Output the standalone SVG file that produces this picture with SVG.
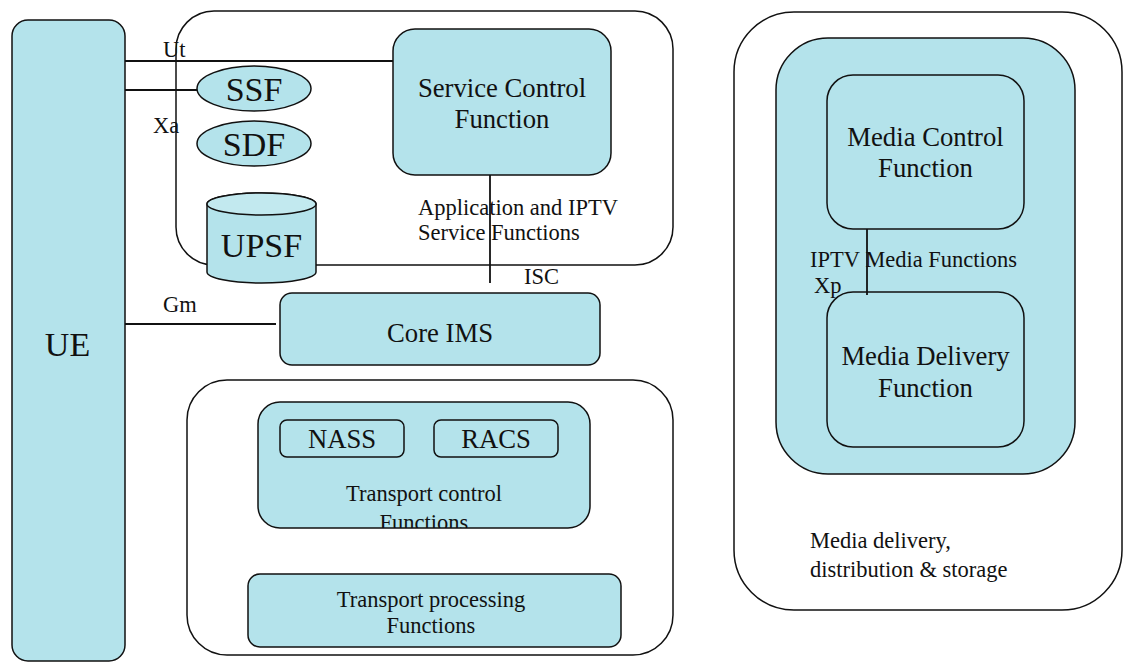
<svg xmlns="http://www.w3.org/2000/svg" width="1124" height="662" viewBox="0 0 1124 662">
<style>
.box{fill:#b4e3eb;stroke:#111;stroke-width:1.5}
.grp{fill:none;stroke:#111;stroke-width:1.5}
.ln{stroke:#111;stroke-width:1.8;fill:none}
text{fill:#111;font-family:'Liberation Serif','DejaVu Serif',serif}
.big{font-size:34px;text-anchor:middle}
.mid{font-size:26.7px;text-anchor:middle}
.sm{font-size:22.5px}
.smc{font-size:22.5px;text-anchor:middle}
</style>
<defs>
<clipPath id="tcclip"><rect x="258" y="402" width="332" height="126" rx="22"/></clipPath>
</defs>
<rect width="1124" height="662" fill="#fff"/>
<g id="app-group">
<rect class="grp" x="176" y="11" width="497" height="254" rx="38"/>
<text class="sm" x="418" y="215">Application and IPTV</text>
<text class="sm" x="418" y="240">Service Functions</text>
</g>
<g id="media-group">
<rect class="grp" x="734" y="12" width="388" height="598" rx="60"/>
<rect class="box" x="776" y="38" width="299" height="436" rx="52"/>
<text class="sm" x="810" y="267">IPTV Media Functions</text>
<text class="sm" x="810" y="548">Media delivery,</text>
<text class="sm" x="810" y="577">distribution &amp; storage</text>
</g>
<g id="transport-group">
<rect class="grp" x="187" y="380" width="486" height="275" rx="40"/>
</g>
<g id="ue">
<rect class="box" x="12" y="20" width="113" height="641" rx="16"/>
<text class="big" x="67.5" y="356">UE</text>
</g>
<g id="scf">
<rect class="box" x="393" y="29" width="218" height="146" rx="22"/>
<text class="mid" x="502" y="97">Service Control</text>
<text class="mid" x="502" y="128">Function</text>
</g>
<g id="ssf">
<ellipse class="box" cx="254" cy="88.5" rx="57" ry="22.5"/>
<text class="big" x="254" y="101">SSF</text>
</g>
<g id="sdf">
<ellipse class="box" cx="254" cy="143.5" rx="57" ry="22.5"/>
<text class="big" x="254" y="156">SDF</text>
</g>
<g id="upsf">
<path class="box" d="M207 204 L207 272 A54.5 11 0 0 0 316 272 L316 204 A54.5 11 0 0 0 207 204 Z"/>
<ellipse cx="261.5" cy="204" rx="54.5" ry="11" fill="#c2e9ef" stroke="#111" stroke-width="1.5"/>
<text class="big" x="261.5" y="257">UPSF</text>
</g>
<g id="core-ims">
<rect class="box" x="280" y="293" width="320" height="72" rx="12"/>
<text class="mid" x="440" y="342">Core IMS</text>
</g>
<g id="transport-control">
<rect x="258" y="402" width="332" height="126" rx="22" fill="#b4e3eb"/>
<text class="smc" x="424" y="501">Transport control</text>
<text class="smc" x="424" y="530" clip-path="url(#tcclip)">Functions</text>
<rect class="grp" x="258" y="402" width="332" height="126" rx="22"/>
</g>
<g id="nass">
<rect class="box" x="280" y="420" width="124" height="37" rx="7"/>
<text class="mid" x="342" y="448">NASS</text>
</g>
<g id="racs">
<rect class="box" x="434" y="420" width="124" height="37" rx="7"/>
<text class="mid" x="496" y="448">RACS</text>
</g>
<g id="transport-processing">
<rect class="box" x="248" y="574" width="373" height="73" rx="12"/>
<text class="smc" x="431" y="607">Transport processing</text>
<text class="smc" x="431" y="633">Functions</text>
</g>
<g id="mcf">
<rect class="box" x="827" y="75" width="197" height="154" rx="26"/>
<text class="mid" x="925.5" y="146">Media Control</text>
<text class="mid" x="925.5" y="177">Function</text>
</g>
<g id="mdf">
<rect class="box" x="827" y="292" width="197" height="155" rx="26"/>
<text class="mid" x="925.5" y="365">Media Delivery</text>
<text class="mid" x="925.5" y="397">Function</text>
</g>
<g id="connectors">
<line class="ln" x1="125" y1="61" x2="393" y2="61"/>
<line class="ln" x1="125" y1="90" x2="197" y2="90"/>
<line class="ln" x1="125" y1="324" x2="276" y2="324"/>
<line class="ln" x1="490" y1="175" x2="490" y2="283"/>
<line class="ln" x1="867" y1="229" x2="867" y2="295"/>
<text class="sm" x="163" y="57">Ut</text>
<text class="sm" x="153" y="133">Xa</text>
<text class="sm" x="163" y="312">Gm</text>
<text class="sm" x="524" y="284">ISC</text>
<text class="sm" x="814" y="293">Xp</text>
</g>
</svg>
